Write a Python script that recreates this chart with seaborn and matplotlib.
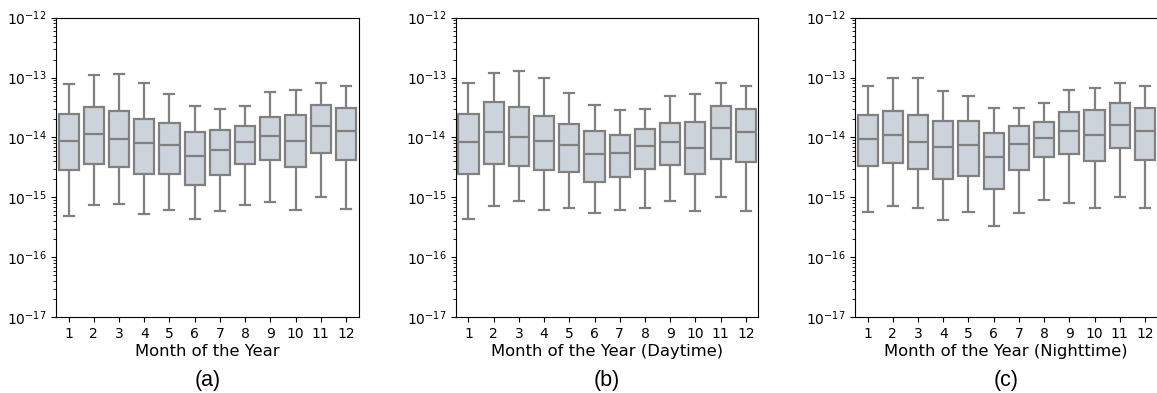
import numpy as np
import pandas as pd
import matplotlib
matplotlib.use("Agg")
import matplotlib.pyplot as plt
from matplotlib.ticker import LogLocator, NullFormatter, FixedLocator, LogFormatterSciNotation
import seaborn as sns

months = [str(m) for m in range(1, 13)]
y_ticks = [1e-17, 1e-16, 1e-15, 1e-14, 1e-13, 1e-12]

# five-number summaries per month: [whisker low, Q1, median, Q3, whisker high]
all_low  = [4.9e-16, 7.4e-16, 7.8e-16, 5.2e-16, 6.1e-16, 4.3e-16, 5.9e-16, 7.6e-16, 8.3e-16, 6.1e-16, 1.0e-15, 6.5e-16]
all_q1   = [2.9e-15, 3.66e-15, 3.22e-15, 2.5e-15, 2.5e-15, 1.62e-15, 2.37e-15, 3.57e-15, 4.2e-15, 3.18e-15, 5.5e-15, 4.16e-15]
all_med  = [8.9e-15, 1.14e-14, 9.3e-15, 8.0e-15, 7.4e-15, 5.0e-15, 6.2e-15, 8.3e-15, 1.04e-14, 8.7e-15, 1.56e-14, 1.27e-14]
all_q3   = [2.44e-14, 3.22e-14, 2.8e-14, 2.07e-14, 1.77e-14, 1.22e-14, 1.32e-14, 1.54e-14, 2.17e-14, 2.34e-14, 3.52e-14, 3.06e-14]
all_high = [7.7e-14, 1.12e-13, 1.16e-13, 8.0e-14, 5.3e-14, 3.3e-14, 2.95e-14, 3.35e-14, 5.7e-14, 6.2e-14, 8.0e-14, 7.3e-14]

day_low  = [4.4e-16, 7.3e-16, 8.7e-16, 6.2e-16, 6.6e-16, 5.4e-16, 6.2e-16, 6.7e-16, 8.6e-16, 5.9e-16, 1.0e-15, 6.0e-16]
day_q1   = [2.44e-15, 3.6e-15, 3.4e-15, 2.87e-15, 2.63e-15, 1.8e-15, 2.15e-15, 2.95e-15, 3.5e-15, 2.47e-15, 4.4e-15, 3.95e-15]
day_med  = [8.3e-15, 1.22e-14, 1.01e-14, 8.6e-15, 7.4e-15, 5.3e-15, 5.5e-15, 7.2e-15, 8.4e-15, 6.7e-15, 1.43e-14, 1.22e-14]
day_q3   = [2.47e-14, 3.9e-14, 3.26e-14, 2.26e-14, 1.66e-14, 1.26e-14, 1.12e-14, 1.37e-14, 1.73e-14, 1.8e-14, 3.39e-14, 3.03e-14]
day_high = [8.2e-14, 1.2e-13, 1.29e-13, 9.7e-14, 5.5e-14, 3.44e-14, 2.84e-14, 3.03e-14, 4.9e-14, 5.3e-14, 8.0e-14, 7.3e-14]

night_low  = [5.6e-16, 7.3e-16, 6.7e-16, 4.2e-16, 5.6e-16, 3.35e-16, 5.4e-16, 8.9e-16, 7.9e-16, 6.7e-16, 1.0e-15, 6.7e-16]
night_q1   = [3.3e-15, 3.75e-15, 2.95e-15, 2.0e-15, 2.29e-15, 1.37e-15, 2.9e-15, 4.66e-15, 5.2e-15, 4.05e-15, 6.66e-15, 4.2e-15]
night_med  = [9.4e-15, 1.09e-14, 8.4e-15, 6.9e-15, 7.4e-15, 4.7e-15, 7.9e-15, 9.9e-15, 1.27e-14, 1.11e-14, 1.62e-14, 1.29e-14]
night_q3   = [2.4e-14, 2.77e-14, 2.37e-14, 1.89e-14, 1.87e-14, 1.21e-14, 1.58e-14, 1.8e-14, 2.63e-14, 2.87e-14, 3.71e-14, 3.06e-14]
night_high = [7.3e-14, 1.0e-13, 9.9e-14, 5.9e-14, 5.0e-14, 3.06e-14, 3.14e-14, 3.8e-14, 6.25e-14, 6.7e-14, 8.0e-14, 7.3e-14]

xlabels = ["Month of the Year", "Month of the Year (Daytime)", "Month of the Year (Nighttime)"]
panel_tags = ["(a)", "(b)", "(c)"]


def build_frame(lo, q1, med, q3, hi):
    rows = []
    for i, m in enumerate(months):
        for v in (lo[i], q1[i], med[i], q3[i], hi[i]):
            rows.append({"month": m, "value": v})
    return pd.DataFrame(rows)


frames = [
    build_frame(all_low, all_q1, all_med, all_q3, all_high),
    build_frame(day_low, day_q1, day_med, day_q3, day_high),
    build_frame(night_low, night_q1, night_med, night_q3, night_high),
]

fig = plt.figure(figsize=(11.57, 3.93), dpi=100)
lefts = [0.0484, 0.394, 0.739]
axes = [fig.add_axes([l, 0.193, 0.2615, 0.762]) for l in lefts]

for ax, df, xl, tag in zip(axes, frames, xlabels, panel_tags):
    sns.boxplot(data=df, x="month", y="value", order=months, ax=ax,
                color="#cbd3dc", linecolor="#808080", linewidth=1.6,
                whis=(0, 100), showfliers=False, width=0.8, log_scale=True)
    ax.set_ylim(y_ticks[0], y_ticks[-1])
    ax.yaxis.set_major_locator(FixedLocator(y_ticks))
    ax.yaxis.set_major_formatter(LogFormatterSciNotation())
    ax.yaxis.set_minor_locator(LogLocator(base=10, subs=np.arange(2, 10), numticks=100))
    ax.yaxis.set_minor_formatter(NullFormatter())
    ax.set_xlabel(xl, fontsize=11.8, labelpad=2)
    ax.set_ylabel("")
    ax.tick_params(axis="both", which="major", labelsize=10)
    ax.text(0.5, -0.21, tag, transform=ax.transAxes, ha="center", va="center",
            fontsize=15.5, family="Liberation Sans")

fig.savefig("out.png", dpi=100)
